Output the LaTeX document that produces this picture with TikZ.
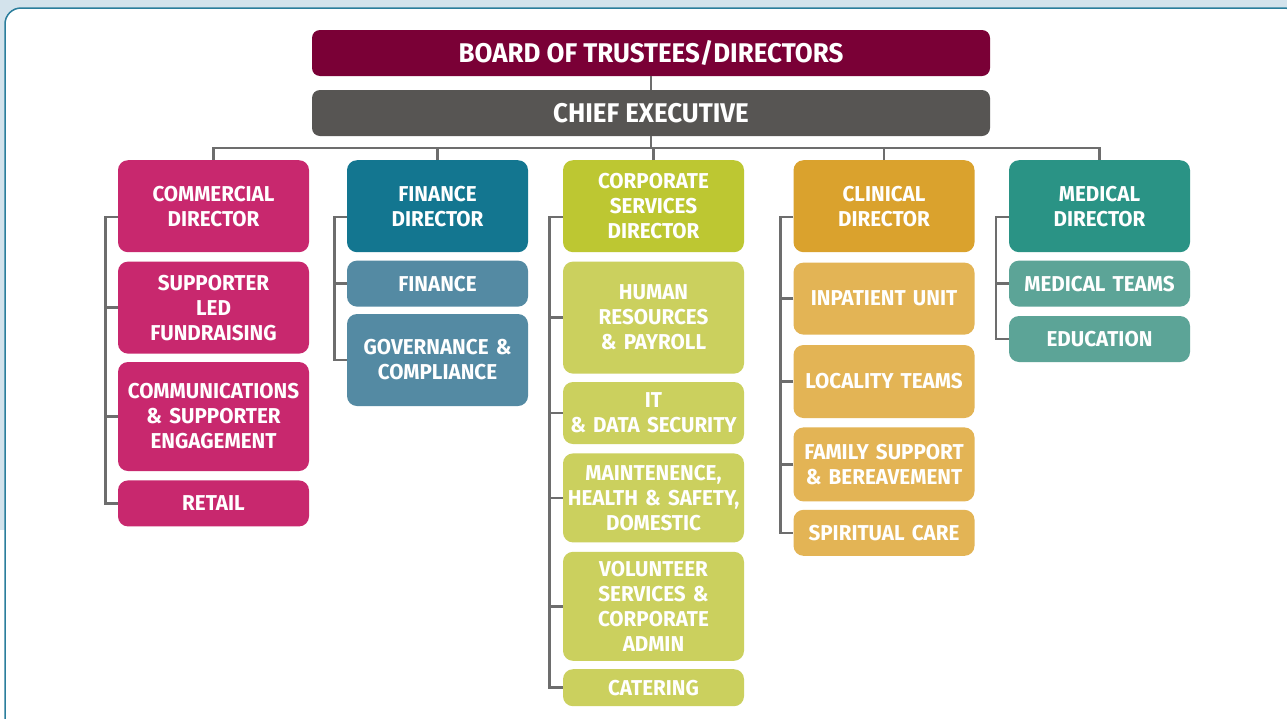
\documentclass[tikz,border=0pt]{standalone}
\usepackage{fontspec}
\setmainfont{Fira Sans}[FakeStretch=0.96]
\usepackage{tikz}
\usetikzlibrary{positioning}

\definecolor{backblue}{HTML}{D3E3EC}
\definecolor{panelblue}{HTML}{2B7E9C}
\definecolor{linegray}{HTML}{6D6D6D}
\definecolor{trustees}{HTML}{7A0036}
\definecolor{chief}{HTML}{575553}
\definecolor{commercial}{HTML}{C8286E}
\definecolor{finance}{HTML}{137690}
\definecolor{financeunit}{HTML}{548AA3}
\definecolor{corporate}{HTML}{BDC732}
\definecolor{corporateunit}{HTML}{CBD05E}
\definecolor{clinical}{HTML}{DAA22D}
\definecolor{clinicalunit}{HTML}{E3B455}
\definecolor{medical}{HTML}{2A9385}
\definecolor{medicalunit}{HTML}{5CA497}

\tikzstyle{topbox} = [rectangle, rounded corners=8pt, minimum width=678pt,
minimum height=46pt, inner sep=0pt, text=white,
font=\bfseries\fontsize{27}{29}\selectfont]
\tikzstyle{headbox} = [rectangle, rounded corners=10pt, minimum width=181pt,
minimum height=92pt, text width=181pt, inner sep=0pt, align=center,
anchor=north, text=white, font=\bfseries\fontsize{21.5}{25}\selectfont]
\tikzstyle{unitbox} = [headbox, minimum height=46pt]
\tikzstyle{wide} = [text width=191pt, minimum width=191pt]
\tikzstyle{link} = [draw=linegray, line width=2.5pt]

\begin{document}
\begin{tikzpicture}[x=1pt, y=-1pt]
\useasboundingbox (0,0) rectangle (1287,718);

% page background and panel
\fill[backblue] (0,0) rectangle (1287,530);
\filldraw[fill=white, draw=panelblue, line width=1.5pt, rounded corners=16pt]
(5,8) rectangle (1300,740);

\node(board)[topbox, fill=trustees] at (651,53) {BOARD OF TRUSTEES/DIRECTORS};
\node(ce)[topbox, fill=chief] at (651,113) {CHIEF EXECUTIVE};
\coordinate(bus) at (651,148);

% directors
\node(comm)[headbox, wide, fill=commercial] at (213.5,160) {COMMERCIAL\\DIRECTOR};
\node(fin)[headbox, fill=finance] at (437.5,160) {FINANCE\\DIRECTOR};
\node(corp)[headbox, fill=corporate] at (653.5,160) {CORPORATE\\SERVICES\\DIRECTOR};
\node(clin)[headbox, fill=clinical] at (884,160) {CLINICAL\\DIRECTOR};
\node(med)[headbox, fill=medical] at (1099.5,160) {MEDICAL\\DIRECTOR};

% commercial
\node(supp)[unitbox, wide, fill=commercial, minimum height=92pt, below=9pt of comm]
{SUPPORTER\\LED\\FUNDRAISING};
\node(comms)[unitbox, wide, fill=commercial, minimum height=109pt, below=8pt of supp]
{COMMUNICATIONS\\\& SUPPORTER\\ENGAGEMENT};
\node(retail)[unitbox, wide, fill=commercial, below=9pt of comms]{RETAIL};

% finance
\node(fina)[unitbox, fill=financeunit, below=8pt of fin]{FINANCE};
\node(gov)[unitbox, fill=financeunit, minimum height=92pt, below=7pt of fina]
{GOVERNANCE \&\\COMPLIANCE};

% corporate services
\node(hr)[unitbox, fill=corporateunit, minimum height=112pt, below=9pt of corp]
{HUMAN\\RESOURCES\\\& PAYROLL};
\node(it)[unitbox, fill=corporateunit, minimum height=62pt, below=8pt of hr]
{IT\\\& DATA SECURITY};
\node(maint)[unitbox, fill=corporateunit, minimum height=89pt, below=9pt of it]
{MAINTENENCE,\\HEALTH \& SAFETY,\\DOMESTIC};
\node(vol)[unitbox, fill=corporateunit, minimum height=109pt, below=9pt of maint]
{VOLUNTEER\\SERVICES \&\\CORPORATE\\ADMIN};
\node(cat)[unitbox, fill=corporateunit, minimum height=37pt, below=8pt of vol]{CATERING};

% clinical
\node(inpat)[unitbox, fill=clinicalunit, minimum height=72pt, below=10pt of clin]
{INPATIENT UNIT};
\node(local)[unitbox, fill=clinicalunit, minimum height=73pt, below=10pt of inpat]
{LOCALITY TEAMS};
\node(family)[unitbox, fill=clinicalunit, minimum height=74pt, below=9pt of local]
{FAMILY SUPPORT\\\& BEREAVEMENT};
\node(spirit)[unitbox, fill=clinicalunit, below=8pt of family]{SPIRITUAL CARE};

% medical
\node(teams)[unitbox, fill=medicalunit, below=8pt of med]{MEDICAL TEAMS};
\node(edu)[unitbox, fill=medicalunit, below=9pt of teams]{EDUCATION};

% top of the tree
\draw[link](board) -- (ce);
\draw[link](ce) -- (bus);
\foreach \d in {comm,fin,corp,clin,med}
  \draw[link](\d.north) |- (bus);

% side spines
\coordinate(commspine) at ([xshift=-12.5pt,yshift=-11pt]comm.west);
\draw[link](comm.west |- commspine) -- (commspine) |- (retail.west);
\foreach \u in {supp,comms}
  \draw[link](\u.west) -- (\u.west -| commspine);

\coordinate(finspine) at ([xshift=-12.5pt,yshift=-11pt]fin.west);
\draw[link](fin.west |- finspine) -- (finspine) |- (gov.west);
\draw[link](fina.west) -- (fina.west -| finspine);

\coordinate(corpspine) at ([xshift=-13.5pt,yshift=-11pt]corp.west);
\draw[link](corp.west |- corpspine) -- (corpspine) |- (cat.west);
\foreach \u in {hr,it,maint,vol}
  \draw[link](\u.west) -- (\u.west -| corpspine);

\coordinate(clinspine) at ([xshift=-13pt,yshift=-11pt]clin.west);
\draw[link](clin.west |- clinspine) -- (clinspine) |- (spirit.west);
\foreach \u in {inpat,local,family}
  \draw[link](\u.west) -- (\u.west -| clinspine);

\coordinate(medspine) at ([xshift=-13pt,yshift=-11pt]med.west);
\draw[link](med.west |- medspine) -- (medspine) |- (edu.west);
\draw[link](teams.west) -- (teams.west -| medspine);

\end{tikzpicture}
\end{document}
